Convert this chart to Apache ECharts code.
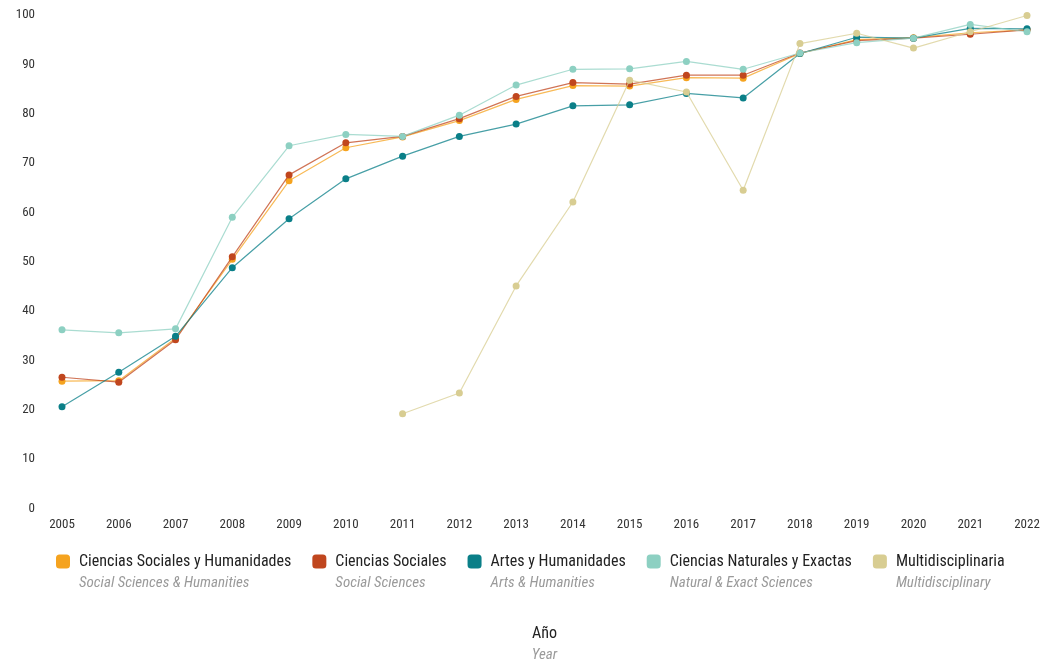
<!DOCTYPE html>
<html>
<head>
<meta charset="utf-8">
<script src="https://cdn.jsdelivr.net/npm/echarts@6/dist/echarts.min.js"></script>
<style>
html,body{margin:0;padding:0;background:#fff;}
#chart{width:1046px;height:668px;}
</style>
</head>
<body>
<div id="chart"></div>
<script>
const years = ['2005','2006','2007','2008','2009','2010','2011','2012','2013','2014','2015','2016','2017','2018','2019','2020','2021','2022'];
const seriesNames = ['Ciencias Sociales y Humanidades','Ciencias Sociales','Artes y Humanidades','Ciencias Naturales y Exactas','Multidisciplinaria'];
const seriesSubs = ['Social Sciences & Humanities','Social Sciences','Arts & Humanities','Natural & Exact Sciences','Multidisciplinary'];
const socialHumanities = [25.8, 25.9, 34.5, 50.5, 66.4, 73.1, 75.3, 78.6, 82.9, 85.7, 85.6, 87.3, 87.2, 92.2, 95.0, 95.4, 96.4, 97.0];
const socialSciences   = [26.6, 25.6, 34.2, 51.0, 67.6, 74.1, 75.4, 79.0, 83.5, 86.3, 86.0, 87.8, 87.8, 92.3, 94.8, 95.3, 96.1, 97.0];
const artsHumanities   = [20.6, 27.6, 34.9, 48.8, 58.7, 66.8, 71.4, 75.4, 77.9, 81.6, 81.8, 84.1, 83.2, 92.2, 95.5, 95.3, 97.3, 97.2];
const naturalExact     = [36.2, 35.6, 36.4, 59.0, 73.5, 75.8, 75.4, 79.7, 85.8, 89.0, 89.1, 90.6, 89.0, 92.3, 94.4, 95.3, 98.1, 96.6];
const multidisciplinary= [null, null, null, null, null, null, 19.2, 23.4, 45.1, 62.1, 86.8, 84.4, 64.5, 94.2, 96.3, 93.3, 96.6, 99.9];
const yTicks = [0,10,20,30,40,50,60,70,80,90,100];
const axisTitle = 'Año';
const axisSub = 'Year';

const colors = ['#F5A31F','#C0461E','#0A7F88','#8DD0C2','#D8CD92'];
const dataSets = [socialHumanities, socialSciences, artsHumanities, naturalExact, multidisciplinary];
const FONT = "'Liberation Sans Narrow','Roboto Condensed','DejaVu Sans Condensed',Roboto,sans-serif";

const chart = echarts.init(document.getElementById('chart'), null, {renderer:'canvas'});
const option = {
  backgroundColor:'#fff',
  animation:false,
  color: colors,
  textStyle:{fontFamily:FONT},
  grid:{left:62, right:19, top:15, bottom:157, containLabel:false},
  legend:{
    data: seriesNames.map(n=>({name:n, icon:'roundRect'})),
    left:51, top:527,
    itemWidth:14, itemHeight:14, itemGap:21,
    formatter:function(name){
      const i = seriesNames.indexOf(name);
      return '{e| }\n{a|'+name+'}\n{b|'+seriesSubs[i]+'}';
    },
    textStyle:{
      fontFamily:FONT,
      rich:{
        e:{fontSize:15, lineHeight:22, fontFamily:FONT, padding:[0,0,0,4]},
        a:{fontSize:16, lineHeight:22, color:'#222', fontFamily:FONT, padding:[0,0,0,4]},
        b:{fontSize:15, lineHeight:22, color:'#9a9a9a', fontStyle:'italic', fontFamily:FONT, padding:[0,0,0,4]}
      }
    }
  },
  xAxis:{
    type:'category', data:years, boundaryGap:false,
    axisLine:{show:false}, axisTick:{show:false}, splitLine:{show:false},
    axisLabel:{color:'#333', fontSize:13, margin:10, fontFamily:FONT, interval:0},
    name: '{a|'+axisTitle+'}\n{b|'+axisSub+'}',
    nameLocation:'middle', nameGap:114,
    nameTextStyle:{
      rich:{
        a:{fontSize:16, lineHeight:22, color:'#222', fontFamily:FONT},
        b:{fontSize:15, lineHeight:22, color:'#9a9a9a', fontStyle:'italic', fontFamily:FONT}
      }
    }
  },
  yAxis:{
    type:'value', min:yTicks[0], max:yTicks[yTicks.length-1], interval:yTicks[1]-yTicks[0],
    axisLine:{show:false}, axisTick:{show:false}, splitLine:{show:false},
    axisLabel:{color:'#333', fontSize:13, margin:27, fontFamily:FONT}
  },
  series: seriesNames.map((n,i)=>({
    name:n, type:'line', data:dataSets[i],
    symbol:'circle', symbolSize:7, showSymbol:true,
    connectNulls:false,
    lineStyle:{width:1.2, color:colors[i], opacity:0.75},
    itemStyle:{color:colors[i]},
    z: 2+i
  }))
};
chart.setOption(option);
</script>
</body>
</html>
